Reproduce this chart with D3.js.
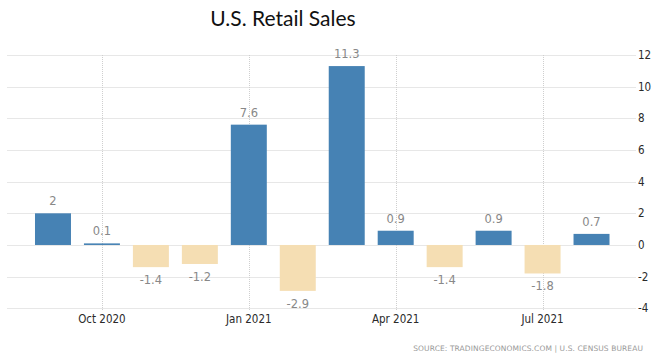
<!DOCTYPE html>
<html>
<head>
<meta charset="utf-8">
<script src="https://cdn.jsdelivr.net/npm/d3@7"></script>
<style>
  body { margin: 0; background: #fff; }
  svg { display: block; }
</style>
</head>
<body>
<svg id="chart" width="660" height="362"></svg>
<script>
const months = ["2020-09","2020-10","2020-11","2020-12","2021-01","2021-02","2021-03","2021-04","2021-05","2021-06","2021-07","2021-08"];
const values = [2, 0.1, -1.4, -1.2, 7.6, -2.9, 11.3, 0.9, -1.4, 0.9, -1.8, 0.7];
const valueLabels = ["2","0.1","-1.4","-1.2","7.6","-2.9","11.3","0.9","-1.4","0.9","-1.8","0.7"];
const xTickMonths = ["2020-10","2021-01","2021-04","2021-07"];
const xTickLabels = ["Oct 2020","Jan 2021","Apr 2021","Jul 2021"];
const yTicks = [-4, -2, 0, 2, 4, 6, 8, 10, 12];
const title = "U.S. Retail Sales";
const source = "SOURCE: TRADINGECONOMICS.COM | U.S. CENSUS BUREAU";

const svg = d3.select("#chart");
const x = d3.scaleBand().domain(months).range([28.5, 616]).paddingInner(0.265).paddingOuter(0.1325);
const y = d3.scaleLinear().domain([-4, 12]).range([308.3, 55]);
const gridLeft = 7.5, gridRight = 636;

// horizontal grid
svg.append("g").selectAll("line").data(yTicks).join("line")
  .attr("x1", gridLeft).attr("x2", gridRight)
  .attr("y1", d => Math.round(y(d)) + 0.5).attr("y2", d => Math.round(y(d)) + 0.5)
  .attr("stroke", "#cfcfcf").attr("stroke-width", 1).attr("stroke-dasharray", "1,1");

// vertical grid
svg.append("g").selectAll("line").data(xTickMonths).join("line")
  .attr("x1", d => Math.round(x(d) + x.bandwidth() / 2) + 0.5)
  .attr("x2", d => Math.round(x(d) + x.bandwidth() / 2) + 0.5)
  .attr("y1", y(12)).attr("y2", y(-4) + 2)
  .attr("stroke", "#cfcfcf").attr("stroke-width", 1).attr("stroke-dasharray", "1,1");

// y axis labels
svg.append("g").selectAll("text").data(yTicks).join("text")
  .attr("x", 638).attr("y", d => y(d)).attr("dy", "0.35em")
  .attr("font-family", "DejaVu Sans Condensed, DejaVu Sans, sans-serif")
  .attr("font-size", 11.5).attr("fill", "#2a2a2a")
  .text(d => d);

// x axis labels
svg.append("g").selectAll("text").data(xTickMonths).join("text")
  .attr("x", d => x(d) + x.bandwidth() / 2).attr("y", 323)
  .attr("text-anchor", "middle")
  .attr("font-family", "DejaVu Sans Condensed, DejaVu Sans, sans-serif")
  .attr("font-size", 11.5).attr("fill", "#2a2a2a")
  .text((d, i) => xTickLabels[i]);

// bars
svg.append("g").selectAll("rect").data(months).join("rect")
  .attr("x", d => x(d))
  .attr("width", x.bandwidth())
  .attr("y", (d, i) => y(Math.max(0, values[i])))
  .attr("height", (d, i) => Math.abs(y(values[i]) - y(0)))
  .attr("fill", (d, i) => values[i] >= 0 ? "#4682b4" : "#f5deb3");

// value labels
svg.append("g").selectAll("text").data(months).join("text")
  .attr("x", d => x(d) + x.bandwidth() / 2)
  .attr("y", (d, i) => values[i] >= 0 ? y(values[i]) - 8 : y(values[i]) + 17)
  .attr("text-anchor", "middle")
  .attr("font-family", "DejaVu Sans, sans-serif")
  .attr("font-size", 11.5).attr("fill", "#888")
  .text((d, i) => valueLabels[i]);

// title
svg.append("text")
  .attr("x", 283).attr("y", 26)
  .attr("text-anchor", "middle")
  .attr("font-family", "Lato, Open Sans, sans-serif")
  .attr("font-size", 21).attr("fill", "#111")
  .text(title);

// source
svg.append("text")
  .attr("x", 643).attr("y", 351)
  .attr("text-anchor", "end")
  .attr("font-family", "DejaVu Sans, sans-serif")
  .attr("font-size", 7.5).attr("letter-spacing", 0.1).attr("fill", "#999")
  .text(source);
</script>
</body>
</html>
